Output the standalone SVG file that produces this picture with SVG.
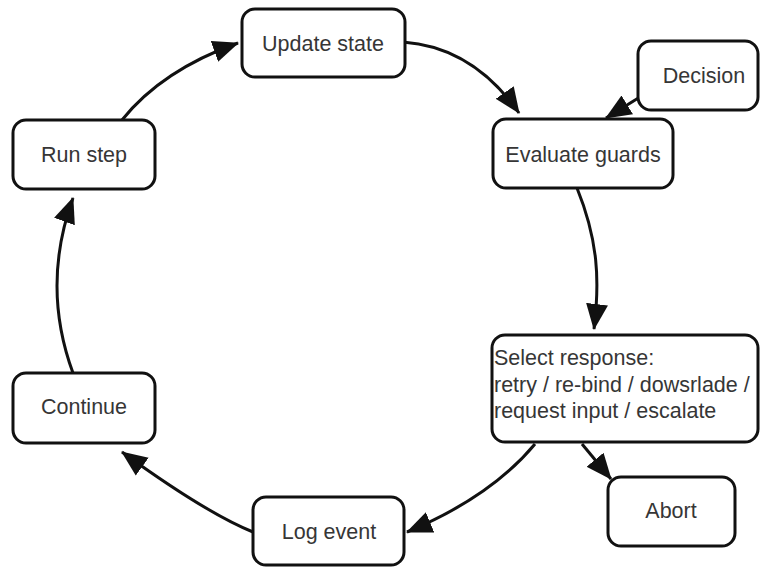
<svg xmlns="http://www.w3.org/2000/svg" width="760" height="567" viewBox="0 0 760 567">
  <style>
    .box { fill: #ffffff; stroke: #111111; stroke-width: 3; }
    .lbl { font-family: "Liberation Sans", Arial, sans-serif; font-size: 21.5px; fill: #363636; text-anchor: middle; }
    .lbl-l { font-family: "Liberation Sans", Arial, sans-serif; font-size: 21.5px; fill: #363636; text-anchor: start; }
    .edge { fill: none; stroke: #111111; stroke-width: 3; }
  </style>
  <defs>
    <marker id="arrow" markerUnits="userSpaceOnUse" viewBox="0 0 26 24" markerWidth="26" markerHeight="24" refX="25" refY="12" orient="auto">
      <path d="M0,1 L26,12 L0,23 z" fill="#111111"/>
    </marker>
  </defs>
  <rect width="760" height="567" fill="#ffffff"/>

  <g id="connectors">
    <path class="edge" d="M122,120 Q162,70 238,43" marker-end="url(#arrow)"/>
    <path class="edge" d="M403,42 Q473,47 519,113" marker-end="url(#arrow)"/>
    <path class="edge" d="M640,97 L606,118" marker-end="url(#arrow)"/>
    <path class="edge" d="M577,188 C598,240 600,280 594,329" marker-end="url(#arrow)"/>
    <path class="edge" d="M535,444 C505,480 460,510 407,532" marker-end="url(#arrow)"/>
    <path class="edge" d="M582,444 L611,479" marker-end="url(#arrow)"/>
    <path class="edge" d="M253,532 Q206,513 122,452" marker-end="url(#arrow)"/>
    <path class="edge" d="M73,373 Q41,286 73,198" marker-end="url(#arrow)"/>
  </g>

  <g id="update-state">
    <rect class="box" x="242" y="9" width="163" height="68" rx="13"/>
    <text class="lbl" x="323" y="51">Update state</text>
  </g>
  <g id="decision">
    <rect class="box" x="638" y="41" width="120" height="69" rx="13"/>
    <text class="lbl" x="704" y="83">Decision</text>
  </g>
  <g id="evaluate-guards">
    <rect class="box" x="493" y="119" width="180" height="69" rx="13"/>
    <text class="lbl" x="583" y="162">Evaluate guards</text>
  </g>
  <g id="run-step">
    <rect class="box" x="13" y="120" width="142" height="69" rx="13"/>
    <text class="lbl" x="84" y="162">Run step</text>
  </g>
  <g id="select-response">
    <rect class="box" x="492" y="335" width="266" height="107" rx="13"/>
    <text class="lbl-l" x="494" y="365">Select response:</text>
    <text class="lbl-l" x="494" y="392">retry / re-bind / dowsrlade /</text>
    <text class="lbl-l" x="494" y="418">request input / escalate</text>
  </g>
  <g id="continue">
    <rect class="box" x="13" y="373" width="142" height="70" rx="13"/>
    <text class="lbl" x="84" y="414">Continue</text>
  </g>
  <g id="log-event">
    <rect class="box" x="253" y="497" width="151" height="68" rx="13"/>
    <text class="lbl" x="329" y="539">Log event</text>
  </g>
  <g id="abort">
    <rect class="box" x="608" y="477" width="127" height="69" rx="13"/>
    <text class="lbl" x="671" y="518">Abort</text>
  </g>
</svg>
